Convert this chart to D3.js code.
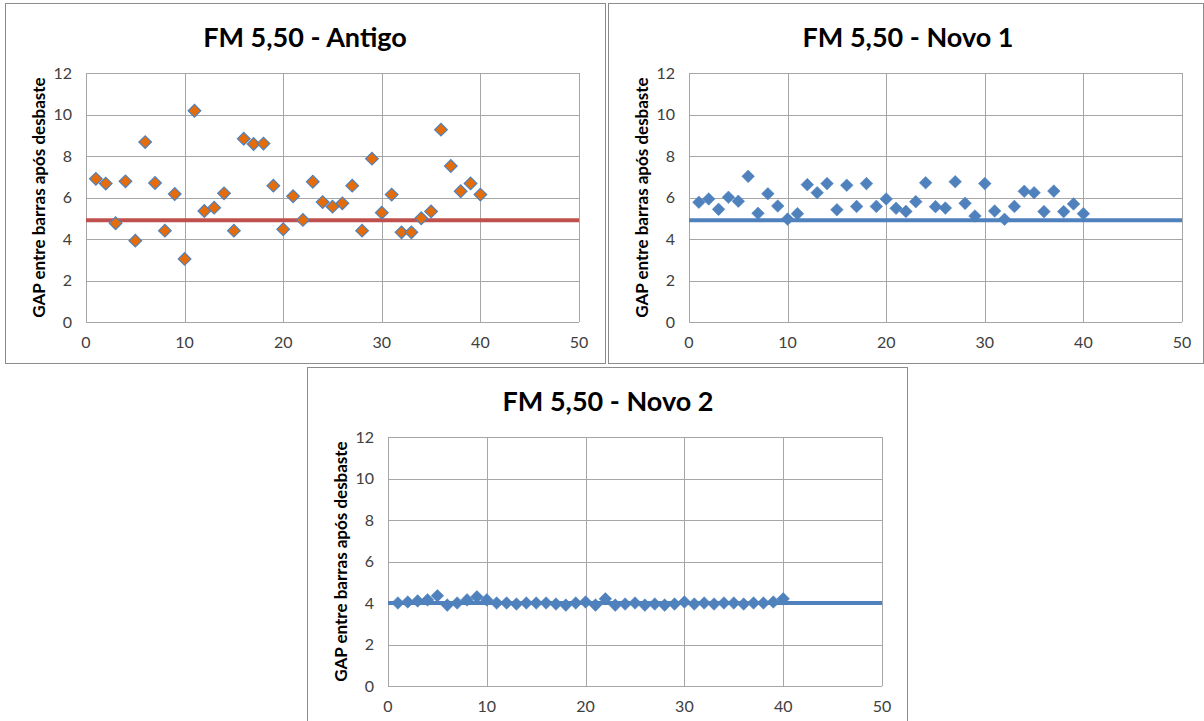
<!DOCTYPE html>
<html>
<head>
<meta charset="utf-8">
<script src="https://cdn.jsdelivr.net/npm/d3@7"></script>
<style>
  body { margin: 0; background: #fff; }
  svg { display: block; }
  text { font-family: Lato, "Open Sans", sans-serif; }
</style>
</head>
<body>
<div id="chart"></div>
<script>
// three Excel-style scatter panels: GAP per sample vs. a reference line

const sampleIndex = [1, 2, 3, 4, 5, 6, 7, 8, 9, 10, 11, 12, 13, 14, 15, 16, 17, 18, 19, 20,
  21, 22, 23, 24, 25, 26, 27, 28, 29, 30, 31, 32, 33, 34, 35, 36, 37, 38, 39, 40];

const antigoGap = [6.9, 6.67, 4.76, 6.78, 3.92, 8.67, 6.7, 4.4, 6.17, 3.04,
  10.18, 5.35, 5.51, 6.2, 4.4, 8.83, 8.58, 8.6, 6.57, 4.47,
  6.06, 4.92, 6.76, 5.78, 5.56, 5.72, 6.57, 4.4, 7.87, 5.27,
  6.14, 4.32, 4.32, 5.0, 5.33, 9.27, 7.52, 6.3, 6.68, 6.14];

const novo1Gap = [5.77, 5.93, 5.43, 6.01, 5.82, 7.02, 5.24, 6.18, 5.59, 4.96,
  5.22, 6.62, 6.23, 6.67, 5.41, 6.59, 5.57, 6.67, 5.57, 5.93,
  5.48, 5.33, 5.8, 6.71, 5.56, 5.49, 6.76, 5.72, 5.11, 6.67,
  5.35, 4.95, 5.57, 6.3, 6.23, 5.32, 6.31, 5.32, 5.69, 5.22];

const novo2Gap = [4.0, 4.05, 4.1, 4.15, 4.35, 3.9, 4.0, 4.15, 4.3, 4.15,
  4.0, 4.0, 3.95, 4.0, 4.0, 4.0, 3.95, 3.9, 4.0, 4.05,
  3.9, 4.2, 3.9, 3.95, 4.0, 3.9, 3.95, 3.9, 3.95, 4.05,
  3.95, 4.0, 3.95, 4.0, 4.0, 3.95, 4.0, 4.0, 4.05, 4.2];

const refLevel = [4.9, 4.9, 4.0];
const titles = ["FM 5,50 - Antigo", "FM 5,50 - Novo 1", "FM 5,50 - Novo 2"];
const yLabel = "GAP entre barras após desbaste";
const xTicks = [0, 10, 20, 30, 40, 50];
const yTicks = [0, 2, 4, 6, 8, 10, 12];

const W = 1204, H = 721;

const svg = d3.select("#chart").append("svg")
  .attr("width", W)
  .attr("height", H);

function drawPanel(p) {
  const g = svg.append("g");

  g.append("rect")
    .attr("x", p.box[0] + 0.5).attr("y", p.box[1] + 0.5)
    .attr("width", p.box[2]).attr("height", p.box[3])
    .attr("fill", "#fff")
    .attr("stroke", "#8c8c8c");

  const x = d3.scaleLinear().domain([0, 50]).range([p.plot[0], p.plot[1]]);
  const y = d3.scaleLinear().domain([0, 12]).range([p.plot[3], p.plot[2]]);

  // gridlines
  g.append("g").selectAll("line.v")
    .data(xTicks.slice(1))
    .enter().append("line")
    .attr("x1", d => Math.round(x(d)) + 0.5).attr("x2", d => Math.round(x(d)) + 0.5)
    .attr("y1", y(12)).attr("y2", y(0))
    .attr("stroke", "#a6a6a6");
  g.append("g").selectAll("line.h")
    .data(yTicks.slice(1))
    .enter().append("line")
    .attr("x1", x(0)).attr("x2", x(50))
    .attr("y1", d => Math.round(y(d)) + 0.5).attr("y2", d => Math.round(y(d)) + 0.5)
    .attr("stroke", "#a6a6a6");
  // axis lines
  g.append("line")
    .attr("x1", Math.round(x(0)) + 0.5).attr("x2", Math.round(x(0)) + 0.5)
    .attr("y1", y(12)).attr("y2", y(0))
    .attr("stroke", "#a6a6a6");
  g.append("line")
    .attr("x1", x(0)).attr("x2", x(50))
    .attr("y1", Math.round(y(0)) + 0.5).attr("y2", Math.round(y(0)) + 0.5)
    .attr("stroke", "#a6a6a6");

  // tick labels
  g.selectAll("text.xt")
    .data(xTicks)
    .enter().append("text")
    .attr("x", d => x(d)).attr("y", y(0) + 26)
    .attr("text-anchor", "middle")
    .attr("font-size", 16)
    .attr("fill", "#404040")
    .text(d => d);
  g.selectAll("text.yt")
    .data(yTicks)
    .enter().append("text")
    .attr("x", x(0) - 14).attr("y", d => y(d) + 5.5)
    .attr("text-anchor", "end")
    .attr("font-size", 16)
    .attr("fill", "#404040")
    .text(d => d);

  // title + y label
  g.append("text")
    .attr("x", p.titleX).attr("y", p.titleY)
    .attr("text-anchor", "middle")
    .attr("font-size", 27)
    .attr("font-weight", "bold")
    .attr("fill", "#000")
    .text(p.title);
  g.append("text")
    .attr("transform", `translate(${x(0) - 41},${(y(0) + y(12)) / 2}) rotate(-90)`)
    .attr("text-anchor", "middle")
    .attr("font-size", 17)
    .attr("font-weight", "bold")
    .attr("fill", "#000")
    .text(yLabel);

  // reference line
  g.append("line")
    .attr("x1", x(0)).attr("x2", x(50))
    .attr("y1", y(p.ref)).attr("y2", y(p.ref))
    .attr("stroke", p.lineColor)
    .attr("stroke-width", 4);

  // diamonds
  const diamond = d3.symbol().type(d3.symbolSquare).size(p.markerSize);
  g.append("g").selectAll("path")
    .data(sampleIndex.map((d, i) => [d, p.values[i]]))
    .enter().append("path")
    .attr("d", diamond)
    .attr("transform", d => `translate(${x(d[0])},${y(d[1])}) rotate(45)`)
    .attr("fill", p.fill)
    .attr("stroke", p.stroke)
    .attr("stroke-width", p.strokeW);
}

drawPanel({
  box: [5, 3, 600, 360],
  plot: [86, 579, 73, 322],
  title: titles[0], titleX: 305, titleY: 47,
  values: antigoGap, ref: refLevel[0],
  lineColor: "#c0504d",
  fill: "#e46c0a", stroke: "#4f81bd", strokeW: 1.2, markerSize: 80
});

drawPanel({
  box: [608, 3, 595, 360],
  plot: [689, 1182, 73, 322],
  title: titles[1], titleX: 908, titleY: 47,
  values: novo1Gap, ref: refLevel[1],
  lineColor: "#4f81bd",
  fill: "#4f81bd", stroke: "#4f81bd", strokeW: 0.5, markerSize: 80
});

drawPanel({
  box: [307, 367, 600, 360],
  plot: [388, 882, 437, 686],
  title: titles[2], titleX: 608, titleY: 411,
  values: novo2Gap, ref: refLevel[2],
  lineColor: "#4f81bd",
  fill: "#4f81bd", stroke: "#4f81bd", strokeW: 0.5, markerSize: 80
});
</script>
</body>
</html>
